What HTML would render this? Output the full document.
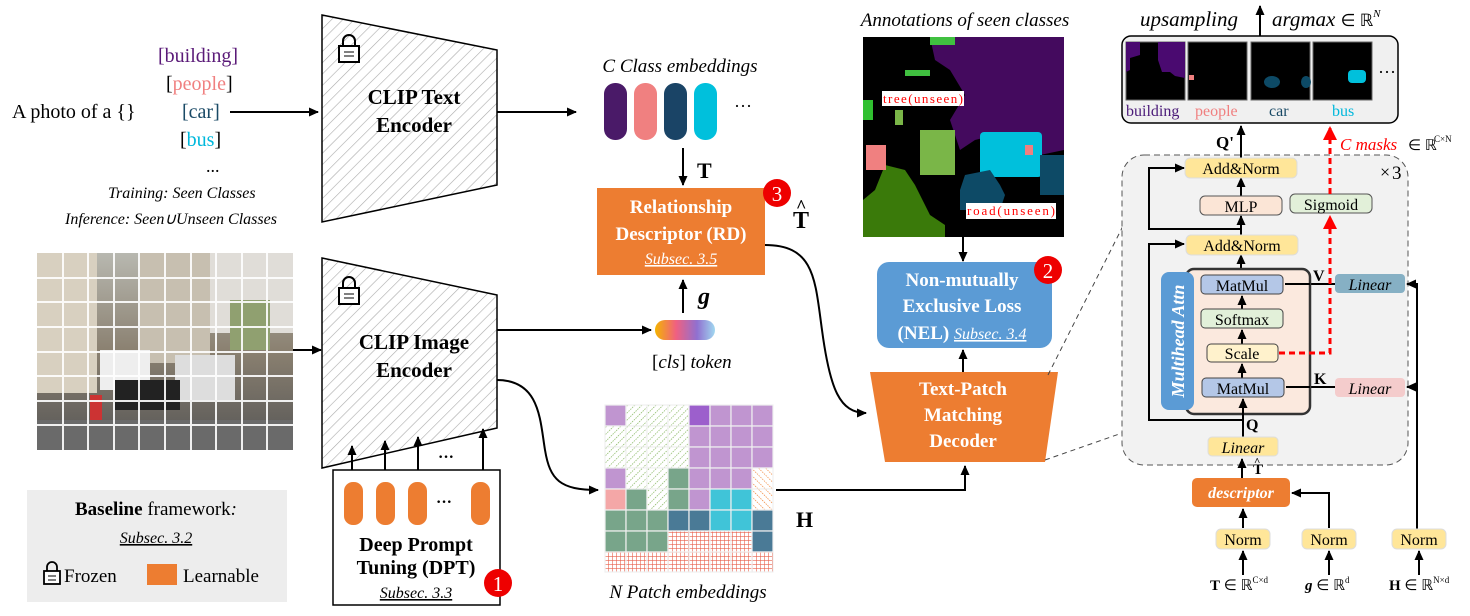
<!DOCTYPE html>
<html><head><meta charset="utf-8"><style>
html,body{margin:0;padding:0;background:#fff}
svg{display:block}
text{font-family:"Liberation Serif",serif}
.b{font-weight:bold}
.i{font-style:italic}
</style></head><body>
<svg width="1470" height="616" viewBox="0 0 1470 616" xmlns="http://www.w3.org/2000/svg">
<defs>
<pattern id="hatch" width="8" height="8" patternUnits="userSpaceOnUse" patternTransform="rotate(45)"><rect width="8" height="8" fill="#fff"/><line x1="0" y1="0" x2="0" y2="8" stroke="#aaa" stroke-width="1.2"/></pattern>
<pattern id="gh" width="5" height="5" patternUnits="userSpaceOnUse" patternTransform="rotate(45)"><rect width="5" height="5" fill="#fff"/><line x1="0" y1="0" x2="0" y2="5" stroke="#7bb050" stroke-width="1.3" stroke-dasharray="1.5 1"/></pattern>
<pattern id="oh" width="5" height="5" patternUnits="userSpaceOnUse" patternTransform="rotate(-45)"><rect width="5" height="5" fill="#fff"/><line x1="0" y1="0" x2="0" y2="5" stroke="#f08030" stroke-width="1.3" stroke-dasharray="1.5 1"/></pattern>
<pattern id="rg" width="4" height="4" patternUnits="userSpaceOnUse"><rect width="4" height="4" fill="#fff"/><path d="M0 0H4M0 0V4" stroke="#e8604c" stroke-width="1.2"/></pattern>
<linearGradient id="cls" x1="0" x2="1"><stop offset="0" stop-color="#f4b400"/><stop offset="0.35" stop-color="#f06080"/><stop offset="0.7" stop-color="#9070d0"/><stop offset="1" stop-color="#a0d8f0"/></linearGradient>
<linearGradient id="city" x1="0" y1="0" x2="0" y2="1"><stop offset="0" stop-color="#b8b8b0"/><stop offset="0.5" stop-color="#8a8070"/><stop offset="1" stop-color="#555"/></linearGradient>
<marker id="ar" markerWidth="10" markerHeight="10" refX="9" refY="5" orient="auto" markerUnits="userSpaceOnUse"><path d="M0,0.5 L10,5 L0,9.5 Z" fill="#000"/></marker>
<marker id="arr" markerWidth="14" markerHeight="14" refX="12" refY="7" orient="auto" markerUnits="userSpaceOnUse"><path d="M0,0 L14,7 L0,14 Z" fill="#f00"/></marker>
</defs>

<text x="12" y="118" font-size="20">A photo of a {}</text>
<text x="158" y="62" font-size="20" fill="#5a1a78">[building]</text>
<text x="166" y="90" font-size="20" fill="#f08080"><tspan fill="#000">[</tspan>people<tspan fill="#000">]</tspan></text>
<text x="182" y="118" font-size="20" fill="#1a4a66">[car]</text>
<text x="180" y="146" font-size="20"><tspan>[</tspan><tspan fill="#00b8dc">bus</tspan><tspan>]</tspan></text>
<text x="206" y="172" font-size="18">...</text>
<text x="108" y="198" font-size="16" class="i">Training: Seen Classes</text>
<text x="65" y="224" font-size="16" class="i">Inference: Seen∪Unseen Classes</text>
<line x1="230" y1="112" x2="318" y2="112" stroke="#000" stroke-width="2" marker-end="url(#ar)"/>

<path d="M322 15 L497 50 L497 185 L322 222 Z" fill="url(#hatch)" stroke="#000" stroke-width="1.5"/>
<g transform="translate(338,36)"><path d="M5 10 V5 a6 6 0 0 1 12 0 V10" fill="none" stroke="#000" stroke-width="2"/><rect x="1" y="10" width="20" height="16" fill="#fff" stroke="#000" stroke-width="2"/><line x1="6" y1="16" x2="16" y2="16" stroke="#000"/><line x1="6" y1="20" x2="16" y2="20" stroke="#000"/></g>
<text x="414" y="104" font-size="21" class="b" text-anchor="middle">CLIP Text</text>
<text x="414" y="132" font-size="21" class="b" text-anchor="middle">Encoder</text>
<line x1="497" y1="112" x2="576" y2="112" stroke="#000" stroke-width="2" marker-end="url(#ar)"/>

<text x="680" y="72" font-size="19" class="i" text-anchor="middle">C Class embeddings</text>
<rect x="604" y="83" width="23" height="57" rx="11" fill="#4a1a68"/>
<rect x="634" y="83" width="23" height="57" rx="11" fill="#f08080"/>
<rect x="664" y="83" width="23" height="57" rx="11" fill="#1a4466"/>
<rect x="694" y="83" width="23" height="57" rx="11" fill="#00c0dc"/>
<text x="734" y="112" font-size="18">···</text>
<line x1="683" y1="148" x2="683" y2="185" stroke="#000" stroke-width="2" marker-end="url(#ar)"/>
<text x="697" y="178" font-size="22" class="b">T</text>

<rect x="597" y="188" width="168" height="87" fill="#ed7d31"/>
<text x="681" y="213" font-size="19" class="b" fill="#fff" text-anchor="middle">Relationship</text>
<text x="681" y="240" font-size="19" class="b" fill="#fff" text-anchor="middle">Descriptor (RD)</text>
<text x="681" y="264" font-size="16" class="i" fill="#fff" text-anchor="middle" text-decoration="underline">Subsec. 3.5</text>
<circle cx="777" cy="193" r="14" fill="#e00"/><text x="777" y="201" font-size="21" fill="#fff" text-anchor="middle">3</text>
<text x="793" y="228" font-size="24" class="b">T</text><text x="796" y="212" font-size="18" class="b">^</text>
<line x1="683" y1="313" x2="683" y2="280" stroke="#000" stroke-width="2" marker-end="url(#ar)"/>
<text x="698" y="304" font-size="24" class="b i">g</text>
<rect x="655" y="320" width="60" height="20" rx="10" fill="url(#cls)"/>
<text x="652" y="368" font-size="19">[<tspan class="i">cls</tspan>] <tspan class="i">token</tspan></text>

<rect x="37" y="253" width="256" height="197" fill="url(#city)"/>
<rect x="37" y="253" width="60" height="140" fill="#d8d0c0"/>
<rect x="140" y="253" width="70" height="110" fill="#c7bfb0"/>
<rect x="210" y="253" width="83" height="80" fill="#e0ddd8"/>
<rect x="230" y="300" width="40" height="50" fill="#90a070"/>
<rect x="100" y="350" width="50" height="40" fill="#eee"/>
<rect x="175" y="355" width="60" height="45" fill="#ddd"/>
<rect x="115" y="380" width="65" height="30" fill="#222"/>
<rect x="90" y="395" width="12" height="25" fill="#c33"/>
<rect x="37" y="420" width="256" height="30" fill="#6a6a6a"/>
<g stroke="#fff" stroke-width="2" opacity="0.9">
<path d="M63 253V450M88 253V450M114 253V450M139 253V450M165 253V450M191 253V450M216 253V450M242 253V450M267 253V450"/>
<path d="M37 278H293M37 302H293M37 327H293M37 352H293M37 376H293M37 401H293M37 425H293"/>
</g>

<path d="M322 258 L497 295 L497 428 L322 468 Z" fill="url(#hatch)" stroke="#000" stroke-width="1.5"/>
<line x1="293" y1="350" x2="321" y2="350" stroke="#000" stroke-width="2" marker-end="url(#ar)"/>
<g transform="translate(338,278)"><path d="M5 10 V5 a6 6 0 0 1 12 0 V10" fill="none" stroke="#000" stroke-width="2"/><rect x="1" y="10" width="20" height="16" fill="#fff" stroke="#000" stroke-width="2"/><line x1="6" y1="16" x2="16" y2="16" stroke="#000"/><line x1="6" y1="20" x2="16" y2="20" stroke="#000"/></g>
<text x="414" y="349" font-size="21" class="b" text-anchor="middle">CLIP Image</text>
<text x="414" y="377" font-size="21" class="b" text-anchor="middle">Encoder</text>
<line x1="497" y1="330" x2="651" y2="330" stroke="#000" stroke-width="2" marker-end="url(#ar)"/>
<path d="M497 380 C540 380 540 420 545 450 C550 480 560 490 598 490" fill="none" stroke="#000" stroke-width="2" marker-end="url(#ar)"/>

<g stroke="#000" stroke-width="2">
<line x1="352" y1="470" x2="352" y2="446" marker-end="url(#ar)"/>
<line x1="385" y1="470" x2="385" y2="441" marker-end="url(#ar)"/>
<line x1="418" y1="470" x2="418" y2="437" marker-end="url(#ar)"/>
<line x1="483" y1="470" x2="483" y2="429" marker-end="url(#ar)"/>
</g>
<text x="438" y="462" font-size="16" class="b">···</text>
<rect x="333" y="470" width="167" height="135" fill="#fff" stroke="#000" stroke-width="1.5"/>
<rect x="344" y="482" width="19" height="43" rx="9" fill="#ed7d31"/>
<rect x="376" y="482" width="19" height="43" rx="9" fill="#ed7d31"/>
<rect x="408" y="482" width="19" height="43" rx="9" fill="#ed7d31"/>
<rect x="471" y="482" width="19" height="43" rx="9" fill="#ed7d31"/>
<text x="436" y="507" font-size="16" class="b">···</text>
<text x="416" y="551" font-size="20" class="b" text-anchor="middle">Deep Prompt</text>
<text x="416" y="574" font-size="20" class="b" text-anchor="middle">Tuning (DPT)</text>
<text x="416" y="598" font-size="16" class="i" text-anchor="middle" text-decoration="underline">Subsec. 3.3</text>
<circle cx="498" cy="583" r="14" fill="#e00"/><text x="498" y="591" font-size="21" fill="#fff" text-anchor="middle">1</text>

<rect x="27" y="490" width="260" height="112" fill="#ededed"/>
<text x="156" y="515" font-size="19" text-anchor="middle"><tspan class="b">Baseline</tspan> framework<tspan class="i">:</tspan></text>
<text x="156" y="543" font-size="16" class="i" text-anchor="middle" text-decoration="underline">Subsec. 3.2</text>
<g transform="translate(43,563)"><path d="M4 8 V4 a5 5 0 0 1 10 0 V8" fill="none" stroke="#000" stroke-width="1.8"/><rect x="1" y="8" width="16" height="13" fill="#fff" stroke="#000" stroke-width="1.8"/><line x1="5" y1="13" x2="13" y2="13" stroke="#000"/><line x1="5" y1="17" x2="13" y2="17" stroke="#000"/></g>
<text x="64" y="582" font-size="19">Frozen</text>
<rect x="147" y="564" width="30" height="21" fill="#ed7d31"/>
<text x="183" y="582" font-size="19">Learnable</text>

<g stroke="#f0f0f0" stroke-width="1.2">
<rect x="605" y="405" width="21" height="21" fill="#c095d0"/><rect x="626" y="405" width="21" height="21" fill="url(#gh)"/><rect x="647" y="405" width="21" height="21" fill="url(#gh)"/><rect x="668" y="405" width="21" height="21" fill="url(#gh)"/><rect x="689" y="405" width="21" height="21" fill="#9c5fcc"/><rect x="710" y="405" width="21" height="21" fill="#c095d0"/><rect x="731" y="405" width="21" height="21" fill="#c095d0"/><rect x="752" y="405" width="21" height="21" fill="#c095d0"/>
<rect x="605" y="426" width="21" height="21" fill="url(#gh)"/><rect x="626" y="426" width="21" height="21" fill="url(#gh)"/><rect x="647" y="426" width="21" height="21" fill="url(#gh)"/><rect x="668" y="426" width="21" height="21" fill="url(#gh)"/><rect x="689" y="426" width="21" height="21" fill="#c095d0"/><rect x="710" y="426" width="21" height="21" fill="#c095d0"/><rect x="731" y="426" width="21" height="21" fill="#c095d0"/><rect x="752" y="426" width="21" height="21" fill="#c095d0"/>
<rect x="605" y="447" width="21" height="21" fill="url(#gh)"/><rect x="626" y="447" width="21" height="21" fill="url(#gh)"/><rect x="647" y="447" width="21" height="21" fill="url(#gh)"/><rect x="668" y="447" width="21" height="21" fill="url(#gh)"/><rect x="689" y="447" width="21" height="21" fill="#c095d0"/><rect x="710" y="447" width="21" height="21" fill="#c095d0"/><rect x="731" y="447" width="21" height="21" fill="#c095d0"/><rect x="752" y="447" width="21" height="21" fill="#c095d0"/>
<rect x="605" y="468" width="21" height="21" fill="#c095d0"/><rect x="626" y="468" width="21" height="21" fill="url(#gh)"/><rect x="647" y="468" width="21" height="21" fill="url(#gh)"/><rect x="668" y="468" width="21" height="21" fill="#78a58a"/><rect x="689" y="468" width="21" height="21" fill="#c095d0"/><rect x="710" y="468" width="21" height="21" fill="#c095d0"/><rect x="731" y="468" width="21" height="21" fill="#c095d0"/><rect x="752" y="468" width="21" height="21" fill="url(#oh)"/>
<rect x="605" y="489" width="21" height="21" fill="#f4a7a7"/><rect x="626" y="489" width="21" height="21" fill="#78a58a"/><rect x="647" y="489" width="21" height="21" fill="url(#gh)"/><rect x="668" y="489" width="21" height="21" fill="#78a58a"/><rect x="689" y="489" width="21" height="21" fill="#c095d0"/><rect x="710" y="489" width="21" height="21" fill="#40c4d8"/><rect x="731" y="489" width="21" height="21" fill="#40c4d8"/><rect x="752" y="489" width="21" height="21" fill="url(#oh)"/>
<rect x="605" y="510" width="21" height="21" fill="#78a58a"/><rect x="626" y="510" width="21" height="21" fill="#78a58a"/><rect x="647" y="510" width="21" height="21" fill="#78a58a"/><rect x="668" y="510" width="21" height="21" fill="#4a7a96"/><rect x="689" y="510" width="21" height="21" fill="#4a7a96"/><rect x="710" y="510" width="21" height="21" fill="#40c4d8"/><rect x="731" y="510" width="21" height="21" fill="#40c4d8"/><rect x="752" y="510" width="21" height="21" fill="#4a7a96"/>
<rect x="605" y="531" width="21" height="21" fill="#78a58a"/><rect x="626" y="531" width="21" height="21" fill="#78a58a"/><rect x="647" y="531" width="21" height="21" fill="#78a58a"/><rect x="668" y="531" width="21" height="21" fill="url(#rg)"/><rect x="689" y="531" width="21" height="21" fill="url(#rg)"/><rect x="710" y="531" width="21" height="21" fill="url(#rg)"/><rect x="731" y="531" width="21" height="21" fill="url(#rg)"/><rect x="752" y="531" width="21" height="21" fill="#4a7a96"/>
<rect x="605" y="552" width="21" height="20" fill="url(#rg)"/><rect x="626" y="552" width="21" height="20" fill="url(#rg)"/><rect x="647" y="552" width="21" height="20" fill="url(#rg)"/><rect x="668" y="552" width="21" height="20" fill="url(#rg)"/><rect x="689" y="552" width="21" height="20" fill="url(#rg)"/><rect x="710" y="552" width="21" height="20" fill="url(#rg)"/><rect x="731" y="552" width="21" height="20" fill="url(#rg)"/><rect x="752" y="552" width="21" height="20" fill="url(#rg)"/>
</g>
<text x="688" y="598" font-size="19" class="i" text-anchor="middle">N Patch embeddings</text>
<text x="796" y="527" font-size="22" class="b">H</text>
<path d="M776 490 H965 V466" fill="none" stroke="#000" stroke-width="2" marker-end="url(#ar)"/>

<text x="965" y="26" font-size="19" class="i" text-anchor="middle">Annotations of seen classes</text>
<rect x="863" y="37" width="201" height="200" fill="#000"/>
<path d="M930 37 H1064 V150 L1040 155 L1030 140 L1010 150 L995 135 L975 140 L960 150 L950 120 L965 95 L950 70 L935 60 Z" fill="#440a5e"/>
<path d="M863 200 L875 190 L885 165 L905 170 L915 185 L930 215 L945 225 L945 237 L863 237 Z" fill="#3a7a0a"/>
<rect x="920" y="130" width="35" height="45" fill="#7ab648"/>
<rect x="895" y="110" width="8" height="15" fill="#7ab648"/>
<rect x="930" y="37" width="25" height="8" fill="#40c040"/><rect x="905" y="70" width="25" height="6" fill="#40c040"/><rect x="863" y="100" width="10" height="20" fill="#30c030"/>
<rect x="980" y="132" width="62" height="45" rx="4" fill="#00c0dc"/>
<path d="M960 190 L965 175 L990 170 L1000 185 L1005 195 L1000 210 L960 210 Z" fill="#0d4a66"/>
<rect x="1040" y="155" width="24" height="40" fill="#0d4a66"/>
<rect x="866" y="145" width="20" height="25" fill="#f08080"/>
<rect x="1025" y="145" width="8" height="10" fill="#f08080"/>
<rect x="882" y="91" width="82" height="15" fill="#fff"/><text x="883" y="103" font-size="13" fill="#f00" textLength="80">tree(unseen)</text>
<rect x="966" y="203" width="90" height="16" fill="#fff"/><text x="967" y="215" font-size="13" fill="#f00" textLength="88">road(unseen)</text>
<line x1="963" y1="237" x2="963" y2="261" stroke="#000" stroke-width="2" marker-end="url(#ar)"/>

<rect x="877" y="262" width="175" height="86" rx="12" fill="#5b9bd5"/>
<text x="962" y="286" font-size="19" class="b" fill="#fff" text-anchor="middle">Non-mutually</text>
<text x="962" y="312" font-size="19" class="b" fill="#fff" text-anchor="middle">Exclusive Loss</text>
<text x="962" y="339" font-size="19" fill="#fff" text-anchor="middle"><tspan class="b">(NEL) </tspan><tspan class="i" font-size="16" text-decoration="underline">Subsec. 3.4</tspan></text>
<circle cx="1048" cy="270" r="14" fill="#e00"/><text x="1048" y="278" font-size="21" fill="#fff" text-anchor="middle">2</text>
<line x1="963" y1="372" x2="963" y2="350" stroke="#000" stroke-width="2" marker-end="url(#ar)"/>

<path d="M870 372 L1058 372 L1045 462 L885 462 Z" fill="#ed7d31"/>
<text x="963" y="395" font-size="19" class="b" fill="#fff" text-anchor="middle">Text-Patch</text>
<text x="963" y="421" font-size="19" class="b" fill="#fff" text-anchor="middle">Matching</text>
<text x="963" y="447" font-size="19" class="b" fill="#fff" text-anchor="middle">Decoder</text>
<path d="M765 245 C815 245 815 280 822 330 C830 390 840 413 866 413" fill="none" stroke="#000" stroke-width="2" marker-end="url(#ar)"/>
<line x1="1048" y1="375" x2="1125" y2="222" stroke="#444" stroke-dasharray="5 4"/>
<line x1="1045" y1="460" x2="1125" y2="432" stroke="#444" stroke-dasharray="5 4"/>

<text x="1140" y="26" font-size="21" class="i">upsampling</text>
<line x1="1260" y1="36" x2="1260" y2="6" stroke="#000" stroke-width="2" marker-end="url(#ar)"/>
<text x="1272" y="26" font-size="21" class="i">argmax <tspan font-style="normal" font-size="17">∈ ℝ</tspan><tspan font-size="11" dy="-9">N</tspan></text>
<rect x="1122" y="36" width="276" height="87" rx="9" fill="#f0f0f0" stroke="#000" stroke-width="1.5"/>
<rect x="1126" y="42" width="59" height="58" fill="#000" stroke="#666"/>
<path d="M1126 42 H1140 V55 L1130 58 V70 L1126 72 Z M1158 42 H1185 V78 L1175 76 L1170 72 L1162 72 L1158 60 Z" fill="#4a0a70"/>
<rect x="1188" y="42" width="59" height="58" fill="#000" stroke="#666"/>
<rect x="1189" y="75" width="5" height="5" fill="#f08080"/>
<rect x="1251" y="42" width="59" height="58" fill="#000" stroke="#666"/>
<ellipse cx="1272" cy="82" rx="8" ry="6" fill="#0d4a66"/><ellipse cx="1306" cy="82" rx="5" ry="6" fill="#0d4a66"/>
<rect x="1313" y="42" width="59" height="58" fill="#000" stroke="#666"/>
<rect x="1348" y="70" width="18" height="13" rx="4" fill="#00c0dc"/>
<text x="1378" y="78" font-size="18">···</text>
<text x="1126" y="116" font-size="16" fill="#4a1a78">building</text>
<text x="1195" y="116" font-size="16" fill="#f08080">people</text>
<text x="1269" y="116" font-size="16" fill="#1a4a66">car</text>
<text x="1332" y="116" font-size="16" fill="#00b8dc">bus</text>

<rect x="1122" y="155" width="286" height="310" rx="22" fill="#f2f2f2" stroke="#555" stroke-dasharray="6 4"/>
<text x="1380" y="178" font-size="18">×</text><text x="1392" y="179" font-size="19">3</text>
<text x="1216" y="148" font-size="17" class="b">Q'</text>
<line x1="1241" y1="158" x2="1241" y2="126" stroke="#000" stroke-width="2" marker-end="url(#ar)"/>
<text x="1340" y="150" font-size="17" class="i" fill="#f00">C masks</text><text x="1408" y="150" font-size="15">∈ ℝ</text><text x="1434" y="142" font-size="9">C×N</text>

<g stroke="#000" stroke-width="2" fill="none">
<line x1="1241" y1="196" x2="1241" y2="178" marker-end="url(#ar)"/>
<line x1="1241" y1="235" x2="1241" y2="216" marker-end="url(#ar)"/>
<line x1="1241" y1="275" x2="1241" y2="255" marker-end="url(#ar)"/>
<line x1="1243" y1="437" x2="1243" y2="398" marker-end="url(#ar)"/>
<path d="M1243 420 H1149 V244 H1184" marker-end="url(#ar)"/>
<path d="M1241 229 H1149 V168 H1184" marker-end="url(#ar)"/>
<path d="M1417 530 V284 H1407" marker-end="url(#ar)"/>
<line x1="1417" y1="387" x2="1407" y2="387" marker-end="url(#ar)"/>
<line x1="1335" y1="284" x2="1285" y2="284" marker-end="url(#ar)"/>
<line x1="1335" y1="387" x2="1286" y2="387" marker-end="url(#ar)"/>
</g>
<rect x="1186" y="269" width="124" height="145" rx="8" fill="#fbe9de" stroke="#333" stroke-width="2.5"/>
<rect x="1161" y="272" width="33" height="138" rx="8" fill="#5b9bd5"/>
<text transform="translate(1184,341) rotate(-90)" font-size="18" class="b i" fill="#fff" text-anchor="middle">Multihead Attn</text>
<g stroke="#000" stroke-width="2">
<line x1="1242" y1="309" x2="1242" y2="296" marker-end="url(#ar)"/>
<line x1="1242" y1="344" x2="1242" y2="330" marker-end="url(#ar)"/>
<line x1="1242" y1="378" x2="1242" y2="364" marker-end="url(#ar)"/>
<line x1="1243" y1="420" x2="1243" y2="399" marker-end="url(#ar)"/>
<line x1="1285" y1="284" x2="1310" y2="284"/>
<line x1="1286" y1="387" x2="1310" y2="387"/>
</g>
<g font-size="16" text-anchor="middle">
<rect x="1185" y="158" width="112" height="20" rx="5" fill="#ffe699" stroke="#ddd"/><text x="1241" y="174">Add&amp;Norm</text>
<rect x="1200" y="196" width="82" height="19" rx="5" fill="#fbe5d6" stroke="#555"/><text x="1241" y="212">MLP</text>
<rect x="1290" y="194" width="82" height="19" rx="5" fill="#e2f0d9" stroke="#555"/><text x="1331" y="210">Sigmoid</text>
<rect x="1186" y="235" width="112" height="20" rx="5" fill="#ffe699" stroke="#ddd"/><text x="1242" y="251">Add&amp;Norm</text>
<rect x="1201" y="275" width="82" height="19" rx="4" fill="#b4c7e7" stroke="#444"/><text x="1242" y="291">MatMul</text>
<rect x="1201" y="309" width="82" height="19" rx="4" fill="#e2f0d9" stroke="#444"/><text x="1242" y="325">Softmax</text>
<rect x="1207" y="344" width="71" height="18" rx="4" fill="#fff2cc" stroke="#444"/><text x="1242" y="359">Scale</text>
<rect x="1202" y="378" width="82" height="19" rx="4" fill="#b4c7e7" stroke="#444"/><text x="1243" y="394">MatMul</text>
<rect x="1335" y="274" width="70" height="19" rx="4" fill="#86b0c4"/><text x="1370" y="290" class="i">Linear</text>
<rect x="1335" y="378" width="70" height="19" rx="4" fill="#f4cccc"/><text x="1370" y="394" class="i">Linear</text>
<rect x="1208" y="437" width="70" height="19" rx="4" fill="#ffe699" stroke="#ddd"/><text x="1243" y="453" class="i">Linear</text>
</g>
<path d="M1279 353 H1330 V217" fill="none" stroke="#f00" stroke-width="3" stroke-dasharray="6 4" marker-end="url(#arr)"/>
<path d="M1330 194 V128" fill="none" stroke="#f00" stroke-width="3" stroke-dasharray="6 4" marker-end="url(#arr)"/>
<text x="1313" y="281" font-size="16" class="b">V</text>
<text x="1314" y="384" font-size="16" class="b">K</text>
<text x="1246" y="430" font-size="16" class="b">Q</text>

<text x="1253" y="474" font-size="15" class="b">T</text><text x="1254" y="465" font-size="11" class="b">^</text>
<line x1="1242" y1="478" x2="1242" y2="459" stroke="#000" stroke-width="2" marker-end="url(#ar)"/>
<rect x="1192" y="478" width="98" height="29" rx="5" fill="#ed7d31"/>
<text x="1241" y="498" font-size="16" class="b i" fill="#fff" text-anchor="middle">descriptor</text>
<g stroke="#000" stroke-width="2" fill="none">
<line x1="1243" y1="528" x2="1243" y2="509" marker-end="url(#ar)"/>
<path d="M1329 528 V493 H1292" marker-end="url(#ar)"/>
<line x1="1243" y1="575" x2="1243" y2="551" marker-end="url(#ar)"/>
<line x1="1329" y1="575" x2="1329" y2="551" marker-end="url(#ar)"/>
<line x1="1419" y1="575" x2="1419" y2="551" marker-end="url(#ar)"/>
</g>
<g font-size="16" text-anchor="middle">
<rect x="1216" y="529" width="54" height="20" rx="5" fill="#ffe699" stroke="#ddd"/><text x="1243" y="545">Norm</text>
<rect x="1302" y="529" width="54" height="20" rx="5" fill="#ffe699" stroke="#ddd"/><text x="1329" y="545">Norm</text>
<rect x="1392" y="529" width="54" height="20" rx="5" fill="#ffe699" stroke="#ddd"/><text x="1419" y="545">Norm</text>
</g>
<text x="1210" y="590" font-size="15"><tspan class="b">T</tspan> ∈ ℝ<tspan font-size="9" dy="-7">C×d</tspan></text>
<text x="1305" y="590" font-size="15"><tspan class="b i">g</tspan> ∈ ℝ<tspan font-size="9" dy="-7">d</tspan></text>
<text x="1389" y="590" font-size="15"><tspan class="b">H</tspan> ∈ ℝ<tspan font-size="9" dy="-7">N×d</tspan></text>
</svg>
</body></html>
